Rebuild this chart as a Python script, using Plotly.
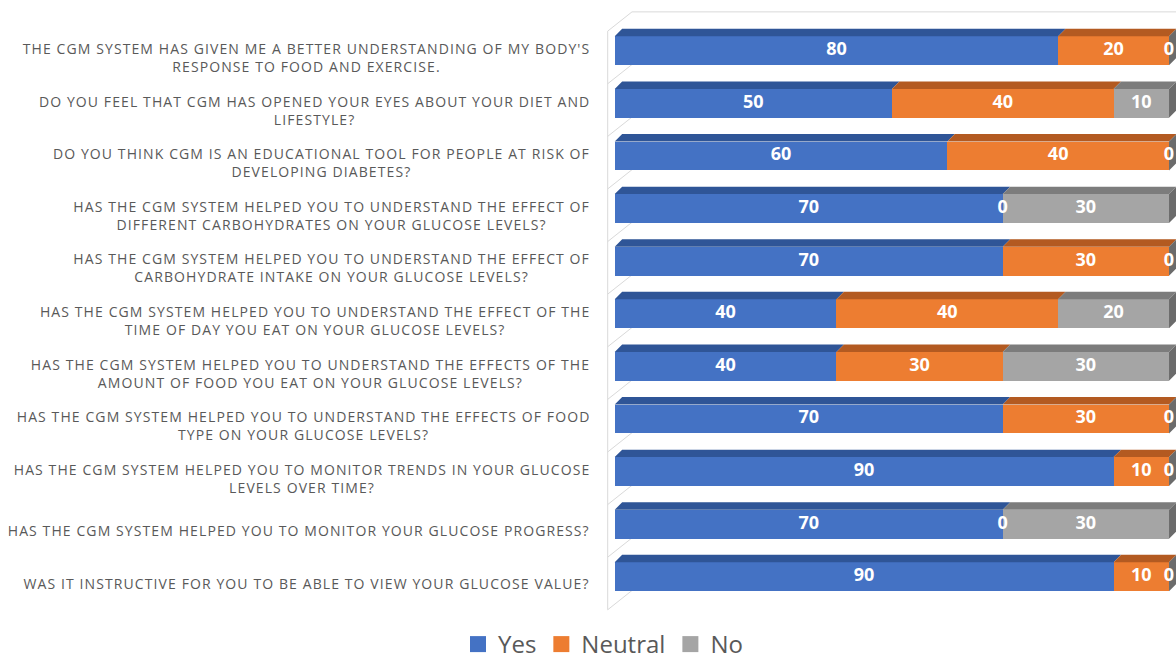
import textwrap
import plotly.graph_objects as go

# Survey questions (top to bottom) and response shares in percent
questions = [
    "THE CGM SYSTEM HAS GIVEN ME A BETTER UNDERSTANDING OF MY BODY'S RESPONSE TO FOOD AND EXERCISE.",
    "DO YOU FEEL THAT CGM HAS OPENED YOUR EYES ABOUT YOUR DIET AND LIFESTYLE?",
    "DO YOU THINK CGM IS AN EDUCATIONAL TOOL FOR PEOPLE AT RISK OF DEVELOPING DIABETES?",
    "HAS THE CGM SYSTEM HELPED YOU TO UNDERSTAND THE EFFECT OF DIFFERENT CARBOHYDRATES ON YOUR GLUCOSE LEVELS?",
    "HAS THE CGM SYSTEM HELPED YOU TO UNDERSTAND THE EFFECT OF CARBOHYDRATE INTAKE ON YOUR GLUCOSE LEVELS?",
    "HAS THE CGM SYSTEM HELPED YOU TO UNDERSTAND THE EFFECT OF THE TIME OF DAY YOU EAT ON YOUR GLUCOSE LEVELS?",
    "HAS THE CGM SYSTEM HELPED YOU TO UNDERSTAND THE EFFECTS OF THE AMOUNT OF FOOD YOU EAT ON YOUR GLUCOSE LEVELS?",
    "HAS THE CGM SYSTEM HELPED YOU TO UNDERSTAND THE EFFECTS OF FOOD TYPE ON YOUR GLUCOSE LEVELS?",
    "HAS THE CGM SYSTEM HELPED YOU TO MONITOR TRENDS IN YOUR GLUCOSE LEVELS OVER TIME?",
    "HAS THE CGM SYSTEM HELPED YOU TO MONITOR YOUR GLUCOSE PROGRESS?",
    "WAS IT INSTRUCTIVE FOR YOU TO BE ABLE TO VIEW YOUR GLUCOSE VALUE?",
]
series_names = ["Yes", "Neutral", "No"]
yes_values = [80, 50, 60, 70, 70, 40, 40, 70, 90, 70, 90]
neutral_values = [20, 40, 40, 0, 30, 40, 30, 30, 10, 0, 10]
no_values = [0, 10, 0, 30, 0, 20, 30, 0, 0, 30, 0]

series_values = [yes_values, neutral_values, no_values]
front_colors = ["#4472C4", "#ED7D31", "#A5A5A5"]
top_colors = ["#2F5597", "#B35A21", "#7C7C7C"]
side_color = "#6B6B6B"

n = len(questions)
rows = list(range(n))

W, H = 1176, 662
plot_left = 600       # left edge of the bar area in pixels

# pseudo-3D geometry (axis units)
bar_w = 0.55          # front face thickness
depth_x = 1.35        # receding offset of bar tops
depth_y = 0.142
wall_x = -1.263       # front edge of the left wall
wall_dx = 4.38
wall_dy = 0.366
band0 = -0.373        # first band edge on the wall
x_range = [-2.652, 101.26]
y_range = [11.62, -0.965]

fig = go.Figure()

# front faces of the stacked bars
for name, vals, col in zip(series_names, series_values, front_colors):
    fig.add_trace(go.Bar(
        y=rows, x=vals, orientation="h", name=name, width=bar_w,
        marker=dict(color=col, line=dict(width=0)),
        showlegend=False, hoverinfo="skip",
    ))

# top faces: each segment is a parallelogram receding up and to the right
starts = [0] * n
for vals, col in zip(series_values, top_colors):
    px, py = [], []
    for i in rows:
        a = starts[i]
        b = a + vals[i]
        yt = i - bar_w / 2
        if vals[i] > 0:
            px += [a, b, b + depth_x, a + depth_x, a, None]
            py += [yt, yt, yt - depth_y, yt - depth_y, yt, None]
        starts[i] = b
    fig.add_trace(go.Scatter(
        x=px, y=py, mode="lines", fill="toself", fillcolor=col,
        line=dict(width=0, color=col), showlegend=False, hoverinfo="skip",
    ))

# right-hand side faces at the end of each bar
sx, sy = [], []
for i in rows:
    end = starts[i]
    yt, yb = i - bar_w / 2, i + bar_w / 2
    sx += [end, end + depth_x, end + depth_x, end, end, None]
    sy += [yt, yt - depth_y, yb - depth_y, yb, yt, None]
fig.add_trace(go.Scatter(
    x=sx, y=sy, mode="lines", fill="toself", fillcolor=side_color,
    line=dict(width=0, color=side_color), showlegend=False, hoverinfo="skip",
))

# value labels centred on each segment
lx, ly, lt = [], [], []
cum = [0] * n
for vals in series_values:
    for i in rows:
        lx.append(cum[i] + vals[i] / 2)
        ly.append(i)
        lt.append(str(vals[i]))
        cum[i] += vals[i]
fig.add_trace(go.Scatter(
    x=lx, y=ly, text=lt, mode="text", textposition="middle center",
    textfont=dict(family="Open Sans", size=18, color="white", weight="bold"),
    showlegend=False, hoverinfo="skip",
))

# legend entries
for name, col in zip(series_names, front_colors):
    fig.add_trace(go.Scatter(
        x=[None], y=[None], mode="markers", name=name,
        marker=dict(symbol="square", size=16, color=col),
    ))

# left wall with band separators and the top edge of the back wall
grid = dict(color="#D9D9D9", width=1)
shapes = [dict(type="line", xref="x", yref="y", layer="below",
               x0=wall_x, x1=wall_x, y0=band0, y1=band0 + n, line=grid)]
for k in range(n + 1):
    shapes.append(dict(type="line", xref="x", yref="y", layer="below",
                       x0=wall_x, y0=band0 + k,
                       x1=wall_x + wall_dx, y1=band0 + k - wall_dy, line=grid))
shapes.append(dict(type="line", xref="x", yref="y", layer="below",
                   x0=wall_x + wall_dx, y0=band0 - wall_dy,
                   x1=x_range[1], y1=band0 - wall_dy, line=grid))

# question labels, centred block anchored at the right
annotations = []
for i, q in enumerate(questions):
    annotations.append(dict(
        text="<br>".join(textwrap.wrap(q, width=65)),
        xref="paper", yref="y", x=592 / W, y=i + 0.127,
        xanchor="right", yanchor="middle", align="center", showarrow=False,
        font=dict(family="Open Sans", size=14, color="#595959"),
    ))

fig.update_layout(
    width=W, height=H,
    margin=dict(l=0, r=0, t=0, b=0, pad=0, autoexpand=False),
    paper_bgcolor="white", plot_bgcolor="white",
    barmode="stack", bargap=0,
    shapes=shapes, annotations=annotations,
    xaxis=dict(range=x_range, domain=[plot_left / W, 1], visible=False, fixedrange=True),
    yaxis=dict(range=y_range, visible=False, fixedrange=True),
    showlegend=True,
    legend=dict(orientation="h", traceorder="normal",
                x=603 / W, xanchor="center", y=-5 / H, yanchor="bottom",
                font=dict(family="Open Sans", size=24, color="#595959"),
                itemsizing="trace", bgcolor="rgba(0,0,0,0)"),
)

letter_spacing = """
var gd = document.getElementById('{plot_id}');
gd.querySelectorAll('g.annotation text.annotation-text').forEach(function (t) {
  var b0 = t.getBBox();
  t.style.letterSpacing = '1.1px';
  var b1 = t.getBBox();
  var dx = (b1.x + b1.width) - (b0.x + b0.width);
  var tr = t.getAttribute('transform') || '';
  t.setAttribute('transform', tr + ' translate(' + (-dx) + ',0)');
});
"""

fig.write_html("out.html", post_script=letter_spacing)
